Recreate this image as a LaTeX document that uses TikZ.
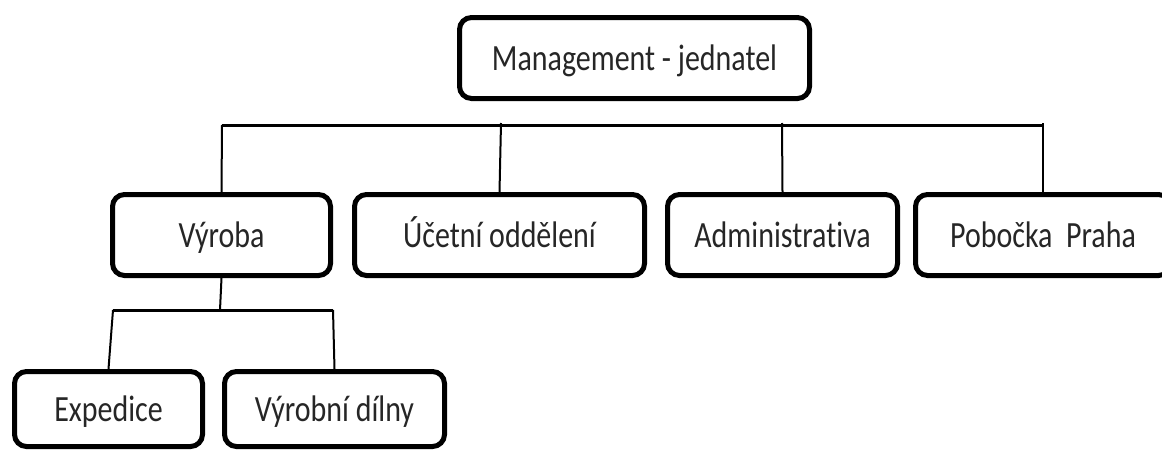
\documentclass[tikz,border=0pt]{standalone}
\usepackage{fontspec}
\setmainfont{Carlito}[FakeStretch=0.81, Ligatures={NoCommon,NoRare}]
\begin{document}
\begin{tikzpicture}[x=1pt,y=-1pt,
  unit/.style={draw=black, line width=5pt, rounded corners=12pt, fill=white,
    inner sep=0pt, text height=24pt, text depth=0pt, text=black!85,
    font=\fontsize{37}{40}\selectfont, minimum height=81pt},
  leaf/.style={unit, minimum height=75pt},
  bus/.style={line width=3pt},
  drop/.style={line width=2pt}]
\useasboundingbox (0,0) rectangle (1162,450);

% boxes
\node[unit, minimum width=350pt] (mgmt) at (634.5,58) {Management - jednatel};
\node[unit, minimum width=218pt] (vyroba) at (221.5,235) {Výroba};
\node[unit, minimum width=290pt] (ucetni) at (499.5,235) {Účetní oddělení};
\node[unit, minimum width=230pt] (admin) at (782.5,235) {Administrativa};
\node[unit, minimum width=255pt] (praha) at (1043,235) {Pobočka~~Praha};
\node[leaf, minimum width=188pt] (exped) at (108.5,409) {Expedice};
\node[leaf, minimum width=220pt] (dilny) at (334.5,409) {Výrobní dílny};

% main bus and taps
\coordinate (busL) at (222,125);
\coordinate (busR) at (1043,125);
\coordinate (tapU) at (501,123);
\coordinate (tapA) at (782,123);
\coordinate (tapP) at (1043,123);
\draw[bus] (busL) -- (busR);
\draw[drop] (busL) -- (vyroba.north);
\draw[drop] (tapU) -- (ucetni.north);
\draw[drop] (tapA) -- (admin.north);
\draw[drop] (tapP) -- (praha.north);

% production sub-bus
\coordinate (subM) at (220,310);
\coordinate (subL) at (113,310);
\coordinate (subR) at (333,310);
\draw[drop] (vyroba.south) -- (subM);
\draw[bus] (subL) -- (subR);
\draw[drop] (subL) -- (exped.north);
\draw[drop] (subR) -- (dilny.north);
\end{tikzpicture}
\end{document}
